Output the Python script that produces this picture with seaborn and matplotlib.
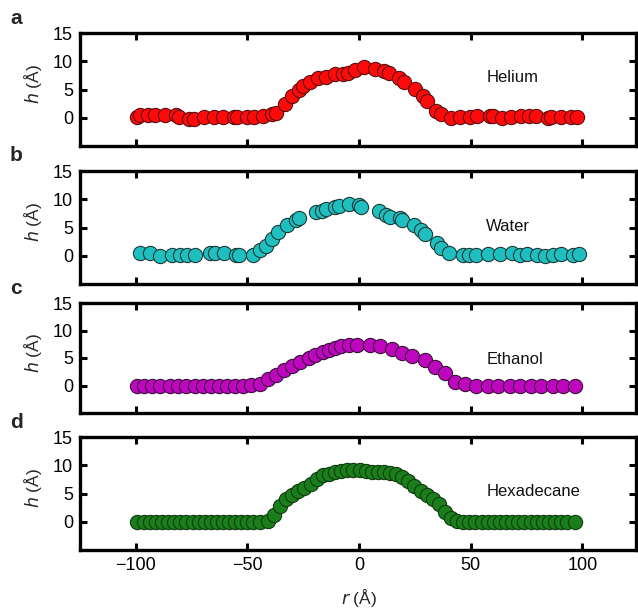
import matplotlib
matplotlib.use("Agg")
import matplotlib.pyplot as plt
import seaborn as sns
import pandas as pd

# ---- data ----
helium_r = [-99.5, -98.0, -94.5, -91.5, -87.0, -82.0, -80.5, -76.0, -74.0, -69.5, -65.0, -61.0,
            -56.0, -54.5, -50.0, -47.0, -43.0, -39.0, -37.0, -33.0, -30.0, -27.0, -25.0, -22.0,
            -18.5, -15.0, -11.0, -7.0, -5.0, -2.0, 2.0, 7.0, 11.0, 13.5, 18.0, 20.0, 25.0, 28.5,
            30.5, 34.5, 36.5, 41.0, 45.0, 49.5, 53.0, 58.5, 60.0, 64.0, 68.0, 72.5, 76.0, 79.0,
            84.5, 86.0, 90.5, 95.0, 97.5]
helium_h = [0.2, 0.4, 0.4, 0.4, 0.4, 0.4, 0.2, -0.2, -0.2, 0.1, 0.2, 0.2,
            0.2, 0.2, 0.2, 0.2, 0.3, 0.6, 0.9, 2.4, 3.9, 4.9, 5.7, 6.3,
            7.0, 7.3, 7.7, 7.7, 8.0, 8.4, 8.9, 8.6, 8.2, 7.9, 7.0, 6.3, 5.1, 3.8,
            3.0, 1.2, 0.7, -0.1, 0.2, 0.2, 0.3, 0.3, 0.3, 0.0, 0.1, 0.3, 0.3, 0.3,
            0.0, 0.1, 0.1, 0.2, 0.2]

water_r = [-98.3, -93.5, -89.2, -83.8, -80.1, -77.0, -73.7, -66.8, -64.6, -60.4, -55.1, -53.7,
           -47.3, -44.5, -41.8, -39.1, -36.3, -32.3, -28.1, -26.9, -19.4, -16.6, -14.8, -10.8,
           -8.8, -4.4, 0.1, 1.0, 8.7, 11.9, 13.9, 18.4, 19.3, 24.8, 27.5, 29.3, 34.8, 36.6,
           40.3, 46.7, 49.4, 52.2, 57.6, 63.1, 68.6, 72.2, 75.0, 79.5, 83.2, 86.8, 90.5, 95.9, 98.5]
water_h = [0.5, 0.5, 0.0, 0.2, 0.2, 0.2, 0.2, 0.4, 0.4, 0.4, 0.2, 0.2,
           0.2, 1.0, 1.8, 2.9, 4.2, 5.4, 6.3, 6.7, 7.7, 8.0, 8.2, 8.6,
           8.8, 9.2, 8.9, 8.7, 7.9, 7.3, 6.9, 6.6, 6.4, 5.5, 4.5, 3.9, 2.3, 1.3,
           0.4, 0.2, 0.2, 0.2, 0.3, 0.3, 0.4, 0.2, 0.3, 0.2, 0.0, 0.2, 0.3, 0.2, 0.3]

ethanol_r = [-99.3, -96.5, -92.9, -89.2, -84.7, -81.0, -77.4, -73.7, -70.1, -66.4, -62.8, -59.1,
             -55.5, -51.8, -48.2, -44.5, -40.9, -37.2, -33.6, -30.0, -26.3, -22.6, -19.9, -16.3,
             -13.5, -10.8, -8.1, -4.4, -0.8, 4.7, 9.3, 14.8, 19.3, 23.9, 29.3, 33.9, 38.5, 43.0,
             47.6, 52.2, 57.6, 62.2, 67.7, 72.2, 76.8, 81.3, 86.8, 91.4, 96.5]
ethanol_h = [0.0, 0.0, 0.0, 0.0, 0.0, 0.0, 0.0, 0.0, 0.0, 0.0, 0.0, 0.0,
             0.0, 0.0, 0.1, 0.2, 1.2, 2.0, 2.8, 3.6, 4.3, 5.0, 5.5, 6.1,
             6.5, 6.8, 7.1, 7.3, 7.4, 7.3, 7.1, 6.7, 6.0, 5.4, 4.6, 3.4, 2.2, 0.7,
             0.2, 0.0, 0.0, 0.0, 0.0, 0.0, 0.0, 0.0, 0.0, 0.0, 0.0]

hexadecane_r = [-99.3, -96.5, -93.8, -91.1, -88.3, -85.6, -82.9, -80.1, -77.4, -74.6, -71.9, -69.2,
                -66.4, -63.7, -61.0, -58.2, -55.5, -52.8, -50.0, -47.3, -44.5, -40.9, -38.2, -35.4,
                -32.7, -29.9, -27.2, -24.5, -21.7, -19.0, -16.3, -13.5, -10.8, -8.1, -5.3, -2.6,
                0.2, 2.9, 5.6, 8.4, 11.1, 13.8, 16.6, 19.3, 22.0, 24.8, 27.5, 30.2, 33.0, 35.7,
                38.5, 41.2, 43.9, 46.7, 49.4, 52.1, 54.9, 57.6, 60.4, 63.1, 65.8, 68.6, 71.3,
                74.0, 76.8, 79.5, 82.2, 85.0, 87.7, 90.5, 93.2, 96.8]
hexadecane_h = [0.0, 0.0, 0.0, 0.0, 0.0, 0.0, 0.0, 0.0, 0.0, 0.0, 0.0, 0.0,
                0.0, 0.0, 0.0, 0.0, 0.0, 0.0, 0.0, 0.0, 0.0, 0.2, 1.2, 2.8,
                4.1, 4.7, 5.4, 5.9, 6.7, 7.6, 8.2, 8.5, 8.8, 8.9, 9.1, 9.1,
                9.1, 8.9, 8.8, 8.8, 8.8, 8.6, 8.5, 7.9, 7.2, 6.3, 5.5, 4.8, 4.1, 3.1,
                1.8, 0.6, 0.1, 0.0, 0.0, 0.0, 0.0, 0.0, 0.0, 0.0, 0.0, 0.0, 0.0,
                0.0, 0.0, 0.0, 0.0, 0.0, 0.0, 0.0, 0.0, 0.0]

liquids = ["Helium", "Water", "Ethanol", "Hexadecane"]
panel_letters = ["a", "b", "c", "d"]
colors = ["#FF0A0A", "#1FBFBF", "#BF06BF", "#1A7F1A"]
edge_colors = ["#5a1010", "#1d3a3a", "#3a103a", "#103a10"]
label_heights = [7.1, 5.2, 4.8, 5.3]
series = [(helium_r, helium_h), (water_r, water_h), (ethanol_r, ethanol_h), (hexadecane_r, hexadecane_h)]
x_ticks = [-100, -50, 0, 50, 100]
y_ticks = [0, 5, 10, 15]

# ---- figure ----
sns.set_theme(style="white")
plt.rcParams["font.family"] = ["Liberation Sans", "DejaVu Sans"]

fig = plt.figure(figsize=(6.38, 6.10), dpi=100)
W, H = 638.0, 610.0
# (top, bottom) of each panel in pixels
panel_px = [(33, 146), (171, 284), (303, 413), (437, 550)]
left_px, right_px = 80, 636

for i, (name, letter, col, (rv, hv)) in enumerate(zip(liquids, panel_letters, colors, series)):
    top, bot = panel_px[i]
    ax = fig.add_axes([left_px / W, 1 - bot / H, (right_px - left_px) / W, (bot - top) / H])
    df = pd.DataFrame({"r": rv, "h": hv})
    sns.scatterplot(data=df, x="r", y="h", ax=ax, color=col, s=105,
                    edgecolor=edge_colors[i], linewidth=0.8, legend=False, zorder=3)
    ax.set_xlim(-125, 124)
    ax.set_ylim(-5, 15)
    ax.set_xticks(x_ticks)
    ax.set_yticks(y_ticks)
    ax.tick_params(direction="in", length=5, width=2.2, top=True, right=True,
                   labelsize=13, colors="black", pad=5)
    ax.tick_params(axis="x", bottom=True)
    ax.tick_params(axis="y", left=True)
    for sp in ax.spines.values():
        sp.set_linewidth(2.4)
        sp.set_color("black")
    if i < 3:
        ax.set_xticklabels([])
    else:
        ax.set_xticklabels(["\u2212100", "\u221250", "0", "50", "100"])
    ax.set_xlabel("")
    ax.set_ylabel("")
    ax.text(57, label_heights[i], name, fontsize=12, ha="left", va="center", color="#111111")
    fig.text(33 / W, 1 - ((top + bot) / 2 - 5) / H, r"$h$ (Å)", rotation=90, ha="center", va="center",
             fontsize=12.5)
    fig.text(10 / W, 1 - (top - 15) / H, letter, fontsize=15, fontweight="bold", ha="left", va="center")

fig.text(359 / W, 1 - 598 / H, r"$r$ (Å)", ha="center", va="center", fontsize=12.5)

fig.savefig("out.png", dpi=100)
